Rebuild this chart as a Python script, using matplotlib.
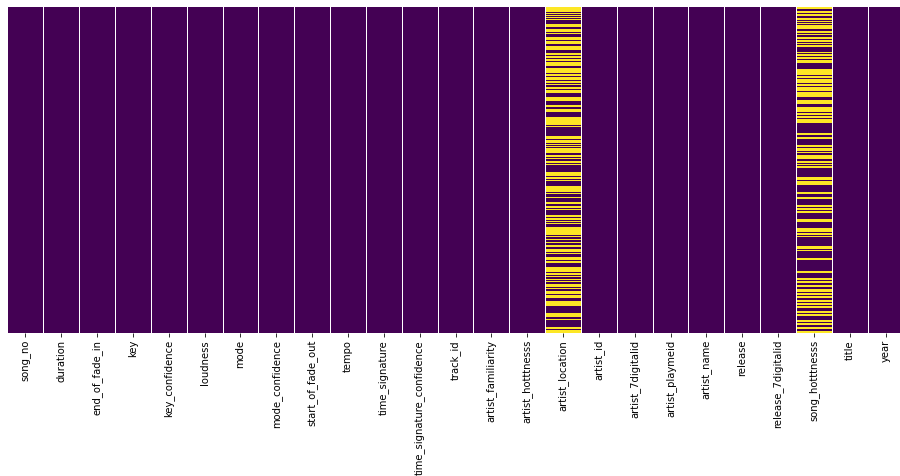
import matplotlib
matplotlib.use("Agg")
import matplotlib.pyplot as plt
import seaborn as sns
import numpy as np
import pandas as pd

# column names of the songs table
columns = ["song_no", "duration", "end_of_fade_in", "key", "key_confidence",
           "loudness", "mode", "mode_confidence", "start_of_fade_out", "tempo",
           "time_signature", "time_signature_confidence", "track_id",
           "artist_familiarity", "artist_hotttnesss", "artist_location",
           "artist_id", "artist_7digitalid", "artist_playmeid", "artist_name",
           "release", "release_7digitalid", "song_hotttnesss", "title", "year"]

n_rows = 326  # rows (one per pixel row)

# missing row ranges (start, end inclusive)
missing_artist_location = [
    (0, 4), (6, 6), (8, 8), (10, 10), (12, 12), (17, 19), (22, 24), (26, 26),
    (30, 32), (34, 36), (39, 42), (46, 47), (49, 50), (52, 53), (55, 58),
    (61, 65), (67, 68), (70, 72), (74, 75), (77, 77), (80, 81), (83, 85),
    (90, 93), (98, 99), (102, 104), (110, 117), (119, 119), (129, 131),
    (133, 135), (137, 137), (139, 139), (141, 145), (148, 149), (151, 151),
    (154, 155), (157, 157), (165, 168), (170, 171), (173, 173), (179, 184),
    (186, 186), (190, 190), (195, 196), (199, 200), (202, 202), (208, 209),
    (211, 212), (214, 214), (216, 216), (220, 227), (229, 229), (232, 232),
    (235, 235), (238, 239), (242, 244), (246, 246), (250, 252), (254, 255),
    (260, 264), (266, 267), (269, 269), (272, 272), (274, 274), (277, 279),
    (281, 281), (284, 286), (288, 290), (294, 298), (306, 309), (312, 312),
    (320, 321), (323, 325)]

missing_song_hotttnesss = [
    (0, 1), (4, 5), (7, 8), (11, 12), (14, 14), (16, 16), (18, 21), (24, 25),
    (27, 27), (30, 31), (33, 34), (36, 36), (38, 39), (45, 45), (47, 48),
    (50, 51), (53, 55), (62, 67), (69, 70), (72, 75), (77, 78), (80, 83),
    (85, 89), (93, 96), (100, 104), (106, 107), (109, 110), (112, 115),
    (126, 127), (130, 131), (138, 139), (141, 143), (145, 145), (148, 151),
    (154, 155), (157, 157), (159, 160), (170, 172), (174, 177), (185, 186),
    (190, 191), (198, 199), (201, 202), (204, 205), (212, 214), (221, 224),
    (226, 227), (229, 229), (239, 241), (243, 243), (251, 252), (264, 265),
    (271, 272), (274, 275), (278, 279), (282, 284), (286, 287), (289, 290),
    (293, 294), (296, 297), (299, 300), (304, 305), (307, 308), (313, 314),
    (316, 317), (320, 321), (324, 325)]

# build the null mask
df = pd.DataFrame(False, index=range(n_rows), columns=columns)
for start, end in missing_artist_location:
    df.loc[start:end, "artist_location"] = True
for start, end in missing_song_hotttnesss:
    df.loc[start:end, "song_hotttnesss"] = True

fig = plt.figure(figsize=(900 / 72, 476 / 72), dpi=72)
ax = fig.add_axes([7.5 / 900, 1 - 333 / 476, 896 / 900, 326 / 476])
sns.heatmap(df.astype(int), cmap="viridis", cbar=False, yticklabels=False, ax=ax)

# white separators between columns
for i in range(1, len(columns)):
    ax.axvline(i, color="white", linewidth=1)

ax.set_xticks(np.arange(len(columns)) + 0.5)
ax.set_xticklabels(columns, rotation=90, fontsize=10)
ax.tick_params(axis="x", length=3.5)

plt.savefig("out.png", dpi=72)
